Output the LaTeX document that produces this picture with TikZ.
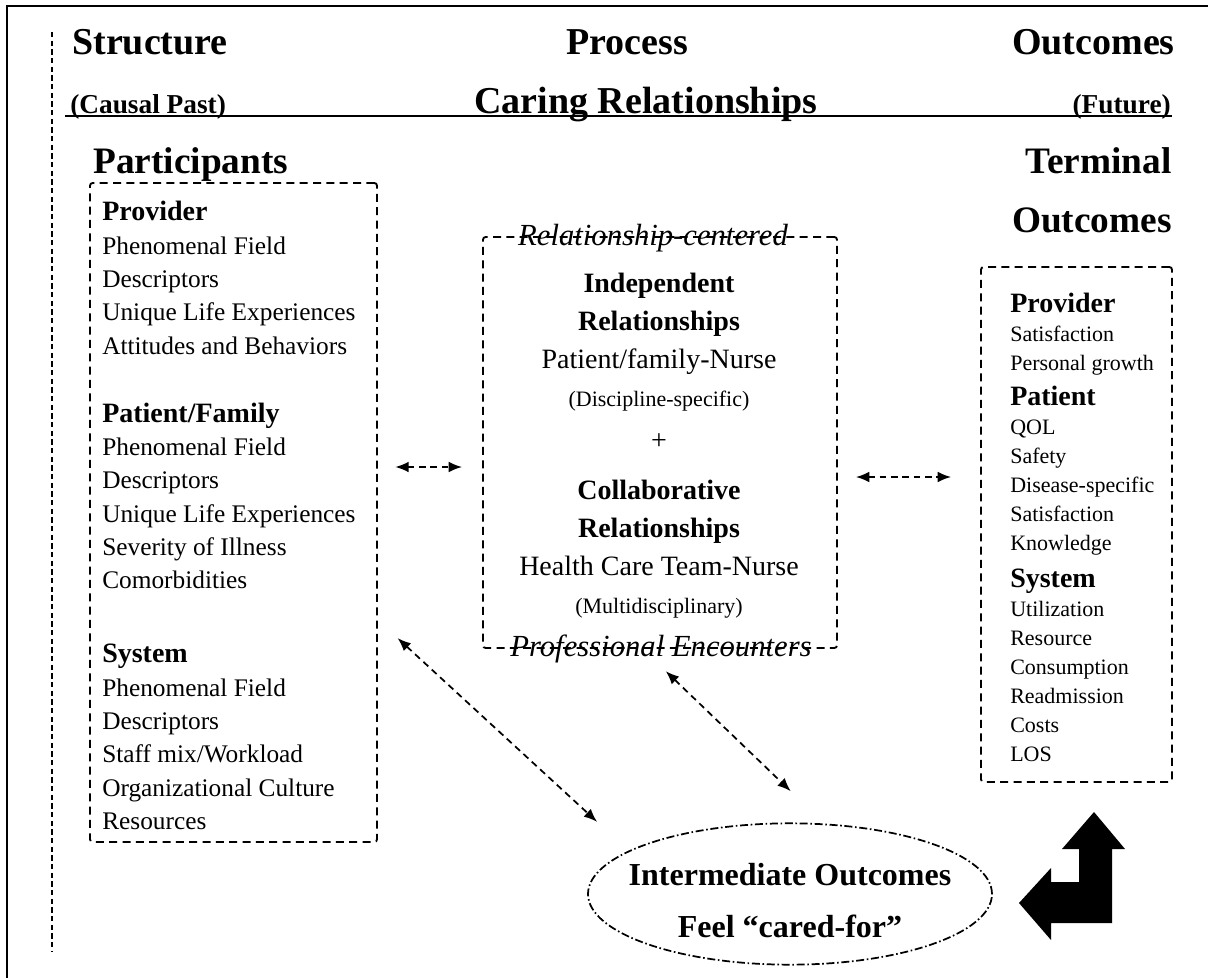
\documentclass[tikz,border=0pt]{standalone}
\usepackage{fontspec}
\setmainfont{Liberation Serif}
\usetikzlibrary{shapes.geometric, arrows.meta}

\tikzstyle{dashbox}=[draw, line width=1.4pt, dash pattern=on 6pt off 4pt, rounded corners=2pt, inner sep=0pt]
\tikzstyle{link}=[line width=1.3pt, dash pattern=on 5pt off 3.5pt, {Latex[length=10pt,width=8pt]}-{Latex[length=10pt,width=8pt]}]
\tikzstyle{head}=[inner sep=0pt, font=\fontsize{28.5}{34}\selectfont\bfseries]
\tikzstyle{sub}=[inner sep=0pt, font=\fontsize{20.5}{24}\selectfont\bfseries]
\tikzstyle{listtext}=[inner sep=0pt, align=left, anchor=north west]
\tikzstyle{edgetag}=[inner sep=0pt, font=\fontsize{23}{26}\selectfont\itshape]

\newcommand{\hd}[1]{{\fontsize{21}{25}\selectfont\bfseries #1}}

\begin{document}
\begin{tikzpicture}[x=0.75pt, y=-0.75pt]
      \useasboundingbox (0,0) rectangle (1208,978);
      \draw[line width=2.2pt] (7,978) -- (7,6) -- (1208,6);
      \draw[line width=1.2pt, dash pattern=on 4pt off 2.5pt] (52,32) -- (52,952);

      % column headings
      \node[head, anchor=base west] (structure) at (72,55) {Structure};
      \node[head, anchor=base] (process) at (627,55) {Process};
      \node[head, anchor=base east] (outcomes) at (1175,55) {Outcomes};
      \node[sub, anchor=base west] (past) at (70,113) {(Causal Past)};
      \node[head, anchor=base] (caring) at (646,113) {Caring Relationships};
      \node[sub, anchor=base east] (future) at (1171,113) {(Future)};
      \draw[line width=1.5pt] (65,116) -- (1172,116);

      \node[head, font=\fontsize{28}{34}\selectfont\bfseries, anchor=base west] (particip) at (93,173) {Participants};
      \node[head, font=\fontsize{28}{34}\selectfont\bfseries, anchor=base east] (terminal) at (1172,173) {Terminal};
      \node[head, font=\fontsize{28}{34}\selectfont\bfseries, anchor=base east] (termout) at (1172,232) {Outcomes};

      % boxes
      \node[dashbox, minimum width=215.25pt, minimum height=494.25pt] (part) at (233.5,512.5) {};
      \node[dashbox, minimum width=265.5pt, minimum height=308.25pt] (rel) at (660,442.5) {};
      \node[dashbox, minimum width=143.25pt, minimum height=386.25pt] (term) at (1076.5,524.5) {};

      \node[listtext, font=\fontsize{19}{25}\selectfont] (parttext) at (102,201) {\hd{Provider}\\
        Phenomenal Field\\ Descriptors\\ Unique Life Experiences\\ Attitudes and Behaviors\\[26pt]
        \hd{Patient/Family}\\ Phenomenal Field\\ Descriptors\\ Unique Life Experiences\\
        Severity of Illness\\ Comorbidities\\[30.5pt]
        \hd{System}\\ Phenomenal Field\\ Descriptors\\ Staff mix/Workload\\
        Organizational Culture\\ Resources};

      \node[edgetag] (centered) at (653,238) {Relationship-centered};
      \node[edgetag] (encounters) at (661,649) {Professional Encounters};
      \node[inner sep=0pt, align=center, anchor=north, font=\fontsize{21}{28.5}\selectfont] (reltext) at (659,273) {\textbf{Independent}\\
        \textbf{Relationships}\\ Patient/family-Nurse\\
        {\fontsize{16.5}{20}\selectfont (Discipline-specific)}\\[3.75pt]
        +\\[9pt]
        \textbf{Collaborative}\\ \textbf{Relationships}\\ Health Care Team-Nurse\\
        {\fontsize{16.5}{20}\selectfont (Multidisciplinary)}};

      \node[listtext, font=\fontsize{16.5}{21.75}\selectfont] (termtext) at (1010,293) {\hd{Provider}\\
        Satisfaction\\ Personal growth\\[4.5pt]
        \hd{Patient}\\ QOL\\ Safety\\ Disease-specific\\ Satisfaction\\ Knowledge\\[6pt]
        \hd{System}\\ Utilization\\ Resource\\ Consumption\\ Readmission\\ Costs\\ LOS};

      \node[ellipse, draw, line width=1.3pt, dash pattern=on 6pt off 2pt on 1.2pt off 2pt,
        minimum width=303pt, minimum height=106pt, inner sep=0pt] (inter) at (790,894) {};
      \node[inner sep=0pt, align=center, font=\fontsize{24}{39}\selectfont\bfseries] (intertext) at (790,901) {Intermediate Outcomes\\ Feel ``cared-for''};

      % links
      \draw[link, shorten <=13pt, shorten >=15pt] (part.east |- 0,467) -- (rel.west |- 0,467);
      \draw[link, shorten <=13.5pt, shorten >=21.75pt] (rel.east |- 0,477) -- (term.west |- 0,477);
      \draw[link, shorten <=20pt, shorten >=32pt] (part.east |- 0,620) -- (inter.165);
      \draw[link, shorten <=24pt, shorten >=35pt] ([xshift=-13pt]rel.south) -- (inter.64);

      % return arrow
      \fill (1019,903) -- (1051,868) -- (1051,882) -- (1079,882) -- (1079,849) -- (1062,849)
        -- (1094,812) -- (1125,849) -- (1112,849) -- (1112,923) -- (1051,923) -- (1051,940) -- cycle;
    \end{tikzpicture}
\end{document}
